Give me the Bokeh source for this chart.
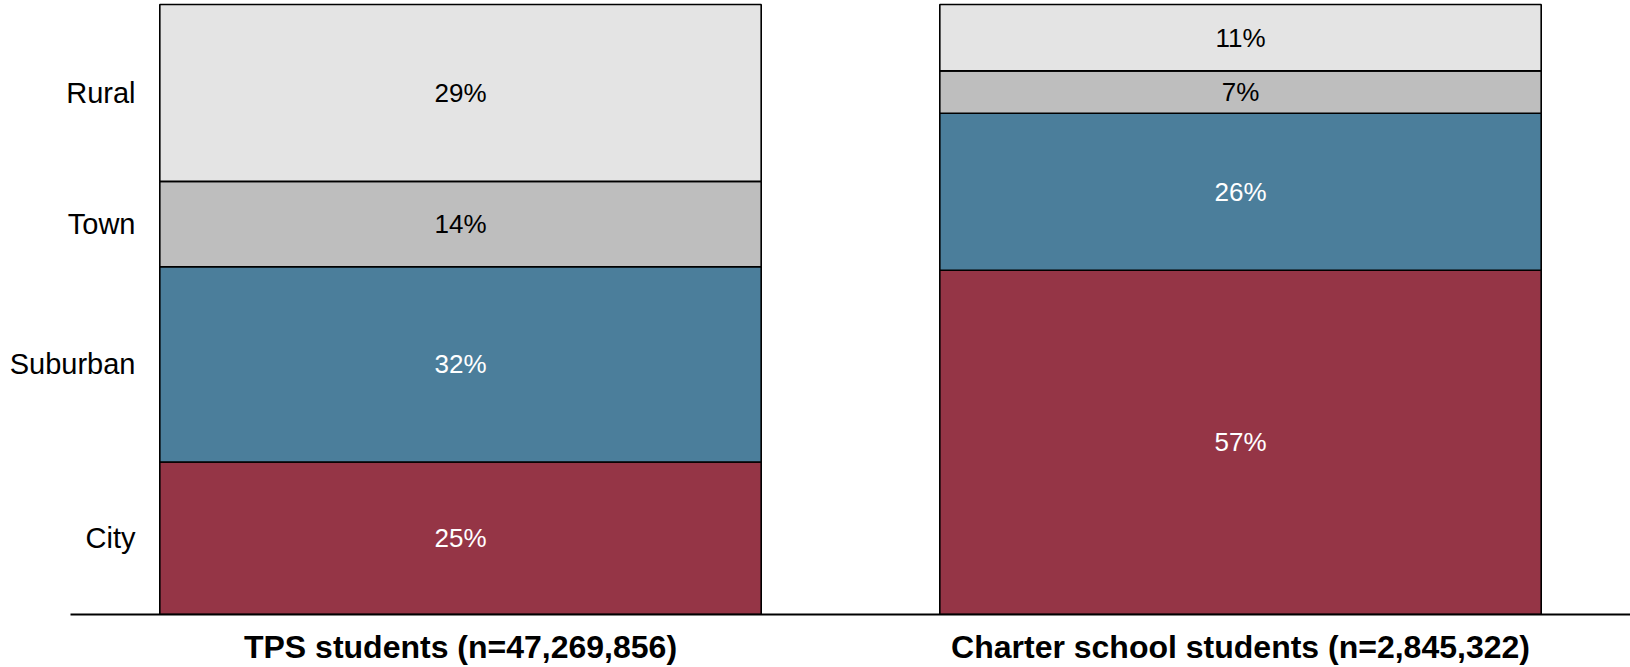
from bokeh.plotting import figure
from bokeh.models import ColumnDataSource, FactorRange, Range1d, LinearAxis, FixedTicker
from bokeh.core.properties import value
from bokeh.embed import file_html
from bokeh.resources import INLINE

# Student groups (bars) and locale categories (stack order, bottom to top)
groups = ["TPS students (n=47,269,856)", "Charter school students (n=2,845,322)"]
locales = ["City", "Suburban", "Town", "Rural"]

# Percent of students by locale, per group
city = [25, 57]
suburban = [32, 26]
town = [14, 7]
rural = [29, 11]

colors = ["#953546", "#4b7e9b", "#bebebe", "#e4e4e4"]
label_colors = ["white", "white", "black", "black"]

series = [city, suburban, town, rural]
totals = [sum(s[i] for s in series) for i in range(len(groups))]

# Shares of each bar, so that every bar fills the full height
data = {"group": groups}
for name, vals in zip(locales, series):
    data[name] = [v / t for v, t in zip(vals, totals)]
source = ColumnDataSource(data)

p = figure(
    x_range=FactorRange(*groups, range_padding=0),
    y_range=Range1d(0, 616 / 612),
    width=1630, height=667,
    output_backend="svg", toolbar_location=None,
    min_border_left=70, min_border_right=0, min_border_top=0, min_border_bottom=51,
    y_axis_location=None,
)

p.vbar_stack(locales, x="group", width=0.771, source=source,
             fill_color=colors, line_color="black", line_width=1.6)

# Percent labels centred in each segment
lab_x, lab_y, lab_t, lab_c = [], [], [], []
for gi, g in enumerate(groups):
    base = 0.0
    for li, vals in enumerate(series):
        share = vals[gi] / totals[gi]
        lab_x.append(g)
        lab_y.append(base + share / 2)
        lab_t.append(f"{vals[gi]}%")
        lab_c.append(label_colors[li])
        base += share
p.text(x=lab_x, y=lab_y, text=lab_t, text_color=lab_c,
       text_font=value("Liberation Sans"), text_font_size="26px",
       text_align="center", text_baseline="middle")

# Locale names on a left axis, ticked at the first bar's segment centres
cat_y = []
base = 0.0
for vals in series:
    share = vals[0] / totals[0]
    cat_y.append(round(base + share / 2, 6))
    base += share

ya = LinearAxis(ticker=FixedTicker(ticks=cat_y),
                major_label_overrides={y: name for y, name in zip(cat_y, locales)})
ya.axis_line_color = None
ya.major_tick_line_color = None
ya.minor_tick_line_color = None
ya.major_label_text_font = "Liberation Sans"
ya.major_label_text_font_size = "29px"
ya.major_label_text_color = "black"
ya.major_label_standoff = -71
p.add_layout(ya, "left")

xa = p.xaxis[0]
xa.axis_line_color = "black"
xa.axis_line_width = 2
xa.major_tick_line_color = None
xa.minor_tick_line_color = None
xa.major_label_text_font = "Liberation Sans"
xa.major_label_text_font_style = "bold"
xa.major_label_text_font_size = "32px"
xa.major_label_text_color = "black"
xa.major_label_standoff = 8

p.xgrid.grid_line_color = None
p.ygrid.grid_line_color = None
p.outline_line_color = None
p.background_fill_color = "white"
p.border_fill_color = "white"

open("out.html", "w").write(file_html(p, INLINE))
